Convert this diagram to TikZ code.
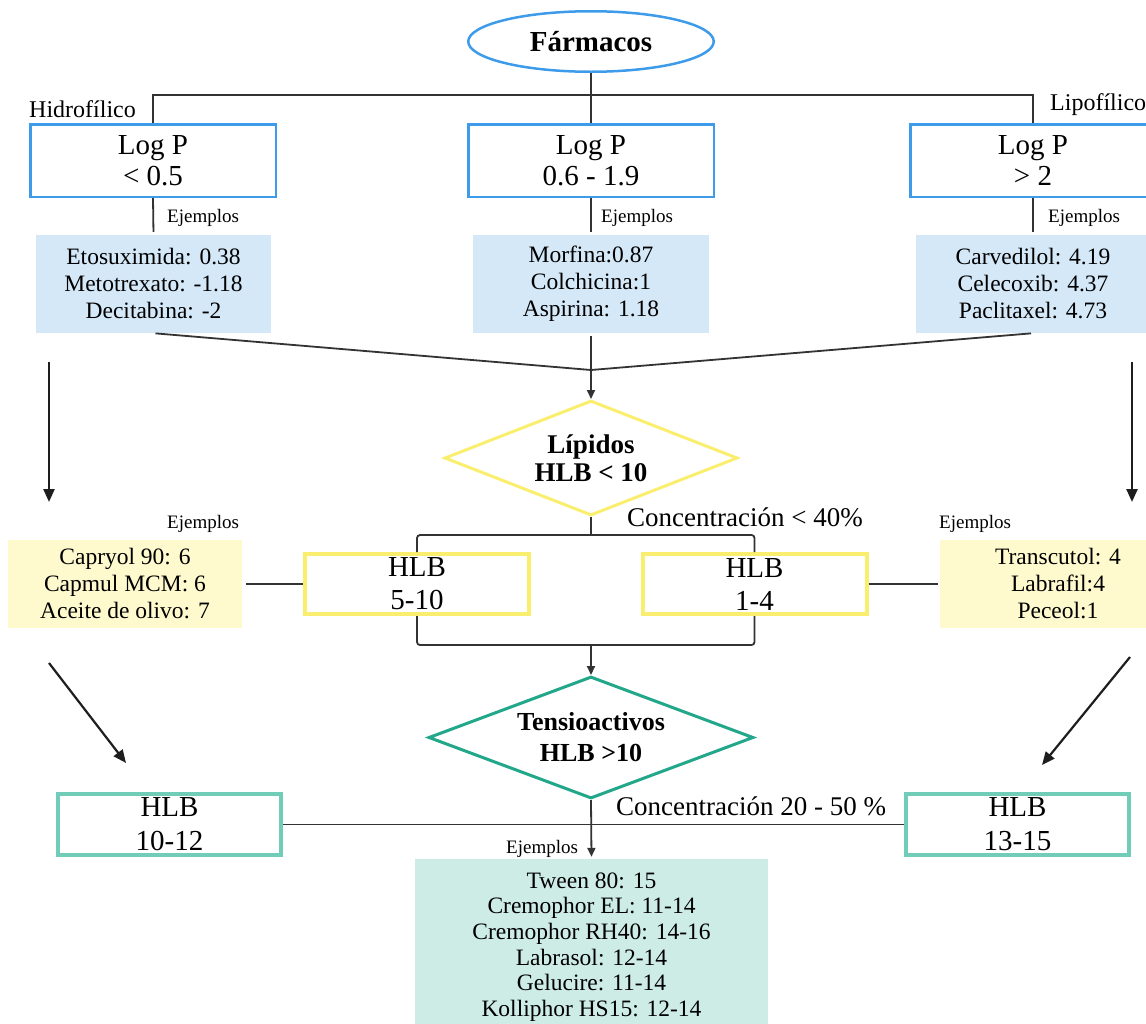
\documentclass[tikz,border=0pt]{standalone}
\usepackage{fontspec}
\setmainfont{Liberation Serif}
\usetikzlibrary{shapes.geometric,arrows.meta}
\definecolor{lc}{HTML}{333333}
\definecolor{dk}{HTML}{1E1E1E}
\definecolor{bl}{HTML}{3D9BE9}
\definecolor{blf}{HTML}{D4E8F8}
\definecolor{yl}{HTML}{FAEE6E}
\definecolor{ylf}{HTML}{FEFACE}
\definecolor{td}{HTML}{22A78B}
\definecolor{tb}{HTML}{72CDB8}
\definecolor{tf}{HTML}{CDECE5}
\newcommand{\fsz}[2]{\fontsize{#1}{#2}\selectfont}
\begin{document}
\begin{tikzpicture}[x=1pt,y=-1pt,
  line/.style={draw=lc, line width=1.8pt},
  arr/.style={line, -{Triangle[length=9pt,width=8pt]}},
  bigarr/.style={draw=dk, line width=2.4pt, -{Triangle[length=13pt,width=11pt]}},
  blbox/.style={draw=bl, line width=2.5pt, minimum width=245.5pt, minimum height=72.5pt, align=center, inner sep=0pt, font=\fsz{29}{31}},
  blfill/.style={fill=blf, minimum height=98pt, align=center, inner sep=0pt, font=\fsz{23.5}{27}},
  ylbox/.style={draw=yl, line width=4pt, minimum width=224pt, minimum height=60pt, align=center, inner sep=0pt, font=\fsz{29}{33}},
  ylfill/.style={fill=ylf, minimum width=234pt, minimum height=88pt, align=center, inner sep=0pt, font=\fsz{23.5}{27}},
  tbox/.style={draw=tb, line width=4pt, minimum width=223pt, minimum height=61pt, align=center, inner sep=0pt, font=\fsz{29}{34}},
  lbl/.style={inner sep=0pt, anchor=base west},
  ej/.style={lbl, font=\fsz{19}{22}},
]
\useasboundingbox (0,0) rectangle (1146,1023);
\clip (0,0) rectangle (1146,1023);

% top
\node[ellipse, draw=bl, line width=2.5pt, minimum width=245.5pt, minimum height=60.5pt, inner sep=0pt, font=\bfseries\fsz{29}{32}] (farm) at (591,41.5) {Fármacos};
\node[blbox] (lp1) at (153,160.5) {Log P\\< 0.5};
\node[blbox] (lp2) at (591,160.5) {Log P\\0.6 - 1.9};
\node[blbox] (lp3) at (1033,160.5) {Log P\\> 2};
\coordinate (tj) at (591,95);
\draw[line] (farm.south) -- (lp2.north);
\draw[line] (lp1.north) |- (tj) -| (lp3.north);
\node[lbl, font=\fsz{24}{26}] (hid) at (29,117) {Hidrofílico};
\node[lbl, font=\fsz{24}{26}] (lip) at (1050,110) {Lipofílico};

% examples row 1
\node[blfill, minimum width=235pt] (e1) at (153.5,284) {Etosuximida: 0.38\\Metotrexato: -1.18\\Decitabina: -2};
\node[blfill, minimum width=236pt] (e2) at (591,284) {Morfina:0.87\\Colchicina:1\\Aspirina: 1.18};
\node[blfill, minimum width=234pt] (e3) at (1033,284) {Carvedilol: 4.19\\Celecoxib: 4.37\\Paclitaxel: 4.73};
\draw[line, shorten >=3pt] (lp1.south) -- (e1.north);
\draw[line, shorten >=3pt] (lp2.south) -- (e2.north);
\draw[line, shorten >=3pt] (lp3.south) -- (e3.north);
\node[ej] (ej1) at (167,222) {Ejemplos};
\node[ej] (ej2) at (601,222) {Ejemplos};
\node[ej] (ej3) at (1048,222) {Ejemplos};

% merge to lipids
\coordinate (m) at (591,370);
\node[diamond, shape aspect=2.55, draw=yl, line width=3pt, minimum width=293pt, minimum height=115pt, inner sep=0pt, align=center, font=\bfseries\fsz{27}{28}] (lipd) at (591,458) {Lípidos\\HLB < 10};
\draw[line, shorten <=2pt] (e1.south) -- (m);
\draw[line, shorten <=2pt] (e3.south) -- (m);
\draw[arr, shorten <=3pt] (e2.south) -- (lipd.north);

% HLB lipid boxes
\node[ylbox] (h1) at (417,584) {HLB\\5-10};
\node[ylbox] (h2) at (754.5,584) {HLB\\1-4};
\coordinate (b1) at (591,535);
\coordinate (b2) at (591,645);
\draw[line] (lipd.south) -- (b1);
\draw[line, rounded corners=3pt] (h1.north) |- (b1) -| (h2.north);
\draw[line, rounded corners=3pt] (h1.south) |- (b2) -| (h2.south);
\node[lbl, font=\fsz{27}{29}] (c40) at (627,526) {Concentración < 40\%};

\node[ylfill] (y1) at (125,584) {Capryol 90: 6\\Capmul MCM: 6\\Aceite de olivo: 7};
\node[ylfill, minimum width=236pt] (y2) at (1058,584) {Transcutol: 4\\Labrafil:4\\Peceol:1};
\draw[line, shorten <=4pt] (y1.east) -- (h1.west);
\draw[line, shorten >=2pt] (h2.east) -- (y2.west);
\node[ej] (ej4) at (167,528) {Ejemplos};
\node[ej] (ej5) at (939,528) {Ejemplos};

% long arrows
\coordinate (la1) at (49,362);
\coordinate (la2) at (49,502);
\coordinate (ra1) at (1132,362);
\coordinate (ra2) at (1132,502);
\draw[bigarr] (la1) -- (la2);
\draw[bigarr] (ra1) -- (ra2);

% surfactants
\node[diamond, shape aspect=2.66, draw=td, line width=3pt, minimum width=325pt, minimum height=122pt, inner sep=0pt, align=center, font=\bfseries\fsz{26}{31}] (ten) at (591,737.5) {Tensioactivos\\HLB >10};
\draw[arr] (b2) -- (ten.north);

\node[tbox] (t1) at (169.5,824.5) {HLB\\10-12};
\node[tbox] (t2) at (1017.5,824.5) {HLB\\13-15};
\draw[line] (t1.east) -- (t2.west);
\node[lbl, font=\fsz{27}{29}] (c2050) at (616,815) {Concentración 20 - 50 \%};

\coordinate (ld1) at (49,663);
\coordinate (ld2) at (126,763);
\coordinate (rd1) at (1130,657);
\coordinate (rd2) at (1042,765);
\draw[bigarr, line width=2.2pt] (ld1) -- (ld2);
\draw[bigarr, line width=2.2pt] (rd1) -- (rd2);

\node[fill=tf, minimum width=353pt, minimum height=176pt, align=center, inner sep=0pt, font=\fsz{23.5}{25.6}] (ex) at (591.5,947) {Tween 80: 15\\Cremophor EL: 11-14\\Cremophor RH40: 14-16\\Labrasol: 12-14\\Gelucire: 11-14\\Kolliphor HS15: 12-14};
\draw[arr, shorten >=2pt] (ten.south) -- (ex.north);
\node[ej] (ej6) at (506,853) {Ejemplos};
\end{tikzpicture}
\end{document}
